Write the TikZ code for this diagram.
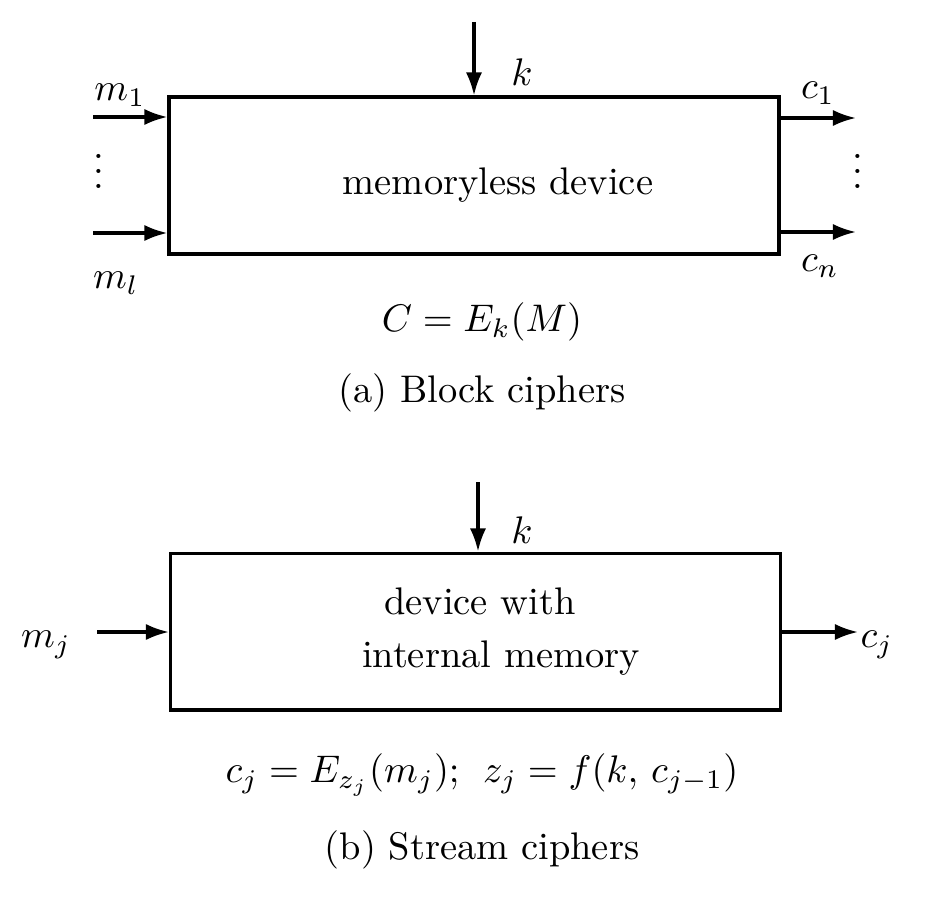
\documentclass[tikz,border=0pt]{standalone}
\usetikzlibrary{arrows.meta}

\tikzset{
  device/.style={draw, line width=0.8pt, minimum width=158.6pt, minimum height=40.8pt, inner sep=0pt},
  flow/.style={line width=0.8pt, -{Latex[length=6pt,width=4.2pt]}}
}

\begin{document}
\begin{tikzpicture}[x=0.26pt, y=-0.26pt]
\useasboundingbox (0,0) rectangle (931,900);

% (a) Block cipher
\node[device] (blk) at (474,175.5) {};
\node (blktxt) at (498,185) {memoryless device};

% Key input
\coordinate (kin) at (474,22);
\draw[flow] (kin) -- (blk.north);
\node (ka) at (522,72) {$k$};

% Plaintext inputs
\coordinate (m1in) at (93,117);
\coordinate (mlin) at (93,233);
\draw[flow] (m1in) -- (blk.west |- m1in);
\draw[flow] (mlin) -- (blk.west |- mlin);
\node (m1) at (120,95) {$m_1$};
\node (ml) at (116,283) {$m_l$};
\node (mdots) at (99,160) {$\vdots$};

% Ciphertext outputs
\coordinate (c1out) at (856,118);
\coordinate (cnout) at (856,232);
\draw[flow] (blk.east |- c1out) -- (c1out);
\draw[flow] (blk.east |- cnout) -- (cnout);
\node (c1) at (818,93) {$c_1$};
\node (cn) at (820,266) {$c_n$};
\node (cdots) at (858,160) {$\vdots$};

% Equation and caption
\node (eqa) at (482,322) {$C = E_k(M)$};
\node (capa) at (482,393) {(a) Block ciphers};

% (b) Stream cipher
\node[device] (str) at (475.5,631.5) {};
\node (strtxt1) at (480,601) {device with};
\node (strtxt2) at (501,658) {internal memory};

% Key input
\coordinate (kinb) at (478,482);
\draw[flow] (kinb) -- (kinb |- str.north);
\node (kb) at (522,530) {$k$};

% Plaintext and ciphertext
\coordinate (mjin) at (97,632);
\coordinate (cjout) at (858,632);
\draw[flow] (mjin) -- (str.west |- mjin);
\draw[flow] (str.east |- cjout) -- (cjout);
\node (mj) at (46,645) {$m_j$};
\node (cj) at (877,645) {$c_j$};

% Equation and caption
\node (eqb) at (482,775) {$c_j = E_{z_j}(m_j);\;\, z_j = f(k,\,c_{j-1})$};
\node (capb) at (482,850) {(b) Stream ciphers};

\end{tikzpicture}
\end{document}
